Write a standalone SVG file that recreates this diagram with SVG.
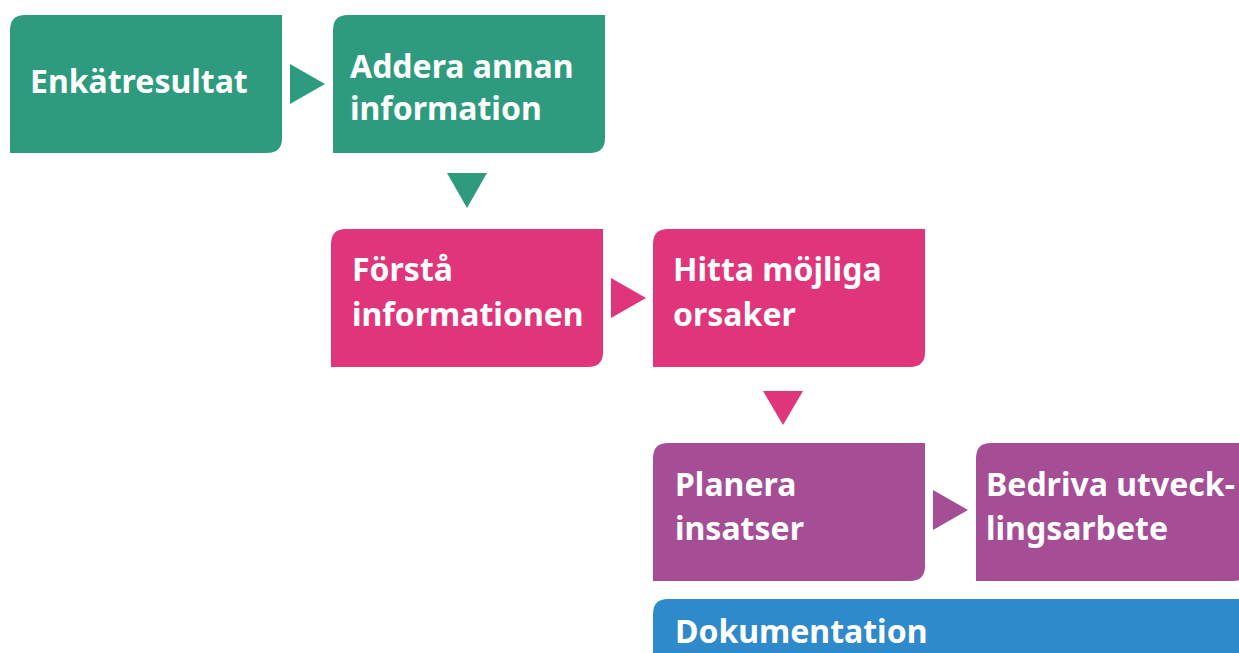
<svg xmlns="http://www.w3.org/2000/svg" width="1239" height="653" viewBox="0 0 1239 653">
<style>
.t{font-family:"Noto Sans","Open Sans","Liberation Sans",sans-serif;font-weight:bold;font-size:32px;fill:#fff}
.g{fill:#2E9B7E}.p{fill:#E0357B}.v{fill:#A54E96}.b{fill:#2F8ACB}
</style>
<defs>
<path id="box" d="M15,0 H272 V123 Q272,138 257,138 H0 V15 Q0,0 15,0 Z"/>
</defs>
<g id="connectors">
<polygon class="g" points="290,64 325,84 290,104"/>
<polygon class="g" points="447,173 487,173 467,208"/>
<polygon class="p" points="611,278 646,298 611,318"/>
<polygon class="p" points="763,391 803,391 783,425"/>
<polygon class="v" points="933,490 968,510 933,530"/>
</g>
<g id="n1"><use href="#box" class="g" x="10" y="15"/><text class="t" x="30" y="93">Enkätresultat</text></g>
<g id="n2"><use href="#box" class="g" x="333" y="15"/><text class="t" x="350" y="78">Addera annan</text><text class="t" x="350" y="120">information</text></g>
<g id="n3"><use href="#box" class="p" x="331" y="229"/><text class="t" x="352" y="281">Förstå</text><text class="t" x="352" y="326">informationen</text></g>
<g id="n4"><use href="#box" class="p" x="653" y="229"/><text class="t" x="673" y="281">Hitta möjliga</text><text class="t" x="673" y="326">orsaker</text></g>
<g id="n5"><use href="#box" class="v" x="653" y="443"/><text class="t" x="675" y="496">Planera</text><text class="t" x="675" y="540">insatser</text></g>
<g id="n6"><use href="#box" class="v" x="976" y="443"/><text class="t" x="986" y="496">Bedriva utveck-</text><text class="t" x="986" y="540">lingsarbete</text></g>
<g id="n7"><path class="b" d="M668,599 H1239 V653 H653 V614 Q653,599 668,599 Z"/><text class="t" x="675" y="643">Dokumentation</text></g>
</svg>
